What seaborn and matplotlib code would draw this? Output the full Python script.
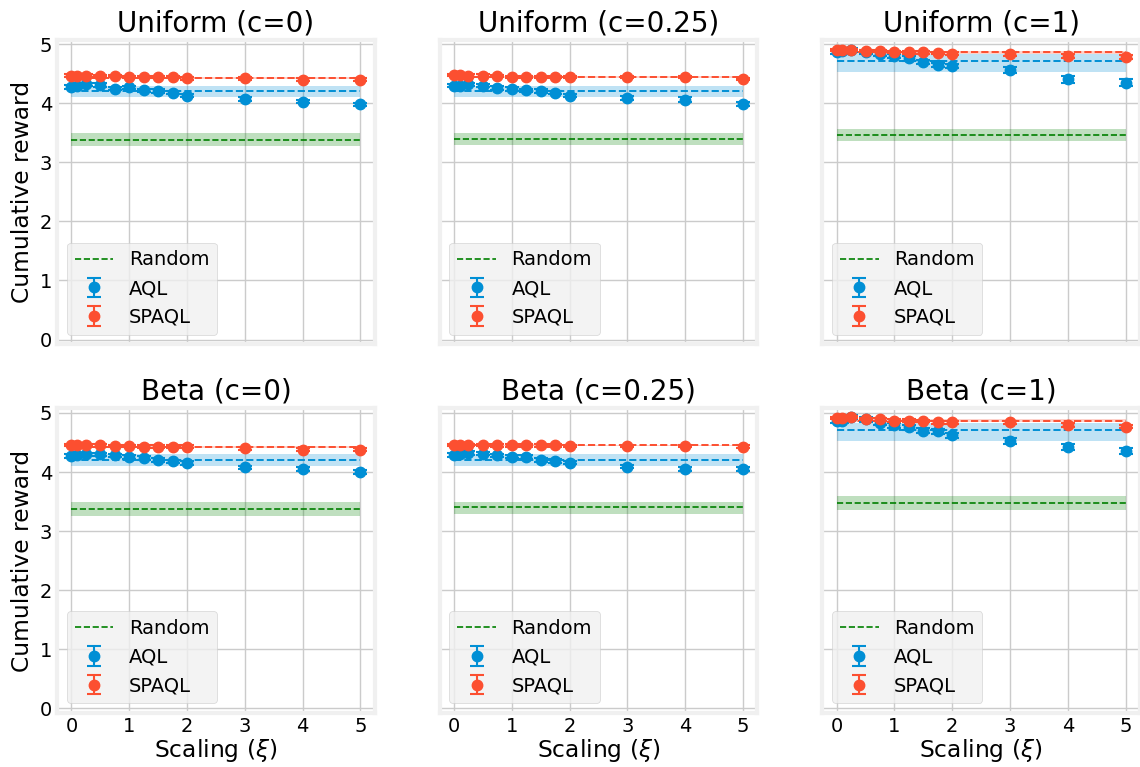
import numpy as np
import pandas as pd
import matplotlib
matplotlib.use("Agg")
import matplotlib.pyplot as plt
import seaborn as sns

# ---------------- data ----------------
xi = [0, 0.1, 0.25, 0.5, 0.75, 1, 1.25, 1.5, 1.75, 2, 3, 4, 5]
titles = ["Uniform (c=0)", "Uniform (c=0.25)", "Uniform (c=1)",
          "Beta (c=0)", "Beta (c=0.25)", "Beta (c=1)"]

aql_u0 = [4.28, 4.29, 4.32, 4.31, 4.25, 4.27, 4.22, 4.21, 4.18, 4.13, 4.07, 4.03, 3.98]
aql_u025 = [4.30, 4.30, 4.32, 4.30, 4.26, 4.24, 4.22, 4.21, 4.18, 4.13, 4.09, 4.06, 3.99]
aql_u1 = [4.87, 4.88, 4.90, 4.87, 4.84, 4.80, 4.76, 4.70, 4.65, 4.63, 4.57, 4.41, 4.35]
aql_b0 = [4.27, 4.29, 4.30, 4.30, 4.28, 4.25, 4.24, 4.20, 4.18, 4.15, 4.08, 4.05, 4.00]
aql_b025 = [4.29, 4.30, 4.32, 4.31, 4.28, 4.26, 4.25, 4.20, 4.19, 4.16, 4.09, 4.05, 4.05]
aql_b1 = [4.87, 4.87, 4.93, 4.89, 4.83, 4.79, 4.76, 4.70, 4.69, 4.62, 4.52, 4.43, 4.35]

spaql_u0 = [4.47, 4.47, 4.47, 4.46, 4.46, 4.45, 4.45, 4.45, 4.44, 4.42, 4.42, 4.40, 4.40]
spaql_u025 = [4.48, 4.48, 4.47, 4.47, 4.46, 4.45, 4.45, 4.45, 4.45, 4.45, 4.44, 4.44, 4.41]
spaql_u1 = [4.90, 4.90, 4.90, 4.89, 4.88, 4.87, 4.86, 4.86, 4.85, 4.84, 4.83, 4.80, 4.78]
spaql_b0 = [4.46, 4.46, 4.46, 4.45, 4.44, 4.44, 4.43, 4.43, 4.43, 4.43, 4.40, 4.38, 4.38]
spaql_b025 = [4.46, 4.46, 4.46, 4.46, 4.45, 4.45, 4.45, 4.45, 4.45, 4.44, 4.44, 4.44, 4.43]
spaql_b1 = [4.91, 4.91, 4.93, 4.90, 4.89, 4.87, 4.87, 4.86, 4.84, 4.84, 4.84, 4.80, 4.77]

aql_err_u0 = [0.03, 0.03, 0.03, 0.03, 0.03, 0.03, 0.03, 0.03, 0.03, 0.03, 0.03, 0.03, 0.03]
aql_err_u025 = [0.03, 0.03, 0.03, 0.03, 0.03, 0.03, 0.03, 0.03, 0.03, 0.03, 0.04, 0.04, 0.04]
aql_err_u1 = [0.04, 0.04, 0.03, 0.04, 0.04, 0.04, 0.04, 0.04, 0.04, 0.04, 0.05, 0.06, 0.06]
aql_err_b0 = [0.03, 0.03, 0.03, 0.03, 0.03, 0.03, 0.03, 0.03, 0.03, 0.03, 0.03, 0.04, 0.04]
aql_err_b025 = [0.03, 0.03, 0.03, 0.03, 0.03, 0.03, 0.03, 0.03, 0.03, 0.03, 0.03, 0.04, 0.04]
aql_err_b1 = [0.04, 0.04, 0.03, 0.04, 0.04, 0.04, 0.04, 0.04, 0.04, 0.04, 0.05, 0.05, 0.05]

spaql_err_u0 = [0.02] * 13
spaql_err_u025 = [0.02] * 13
spaql_err_u1 = [0.02, 0.02, 0.02, 0.02, 0.02, 0.02, 0.02, 0.02, 0.02, 0.02, 0.03, 0.03, 0.03]
spaql_err_b0 = [0.02] * 13
spaql_err_b025 = [0.02] * 13
spaql_err_b1 = [0.02, 0.02, 0.02, 0.02, 0.02, 0.02, 0.02, 0.02, 0.02, 0.02, 0.03, 0.03, 0.03]

# reference levels (dashed) with band low / high
aql_ref = [4.20, 4.21, 4.72, 4.20, 4.21, 4.71]
aql_lo = [4.10, 4.10, 4.53, 4.10, 4.11, 4.53]
aql_hi = [4.30, 4.30, 4.83, 4.30, 4.30, 4.83]
spaql_ref = [4.43, 4.45, 4.87, 4.43, 4.45, 4.87]
spaql_lo = [4.415, 4.435, 4.83, 4.415, 4.435, 4.84]
spaql_hi = [4.445, 4.465, 4.89, 4.445, 4.465, 4.90]
rand_ref = [3.38, 3.40, 3.46, 3.38, 3.40, 3.48]
rand_lo = [3.27, 3.30, 3.36, 3.25, 3.29, 3.35]
rand_hi = [3.50, 3.50, 3.56, 3.49, 3.50, 3.59]

aql_all = [aql_u0, aql_u025, aql_u1, aql_b0, aql_b025, aql_b1]
spaql_all = [spaql_u0, spaql_u025, spaql_u1, spaql_b0, spaql_b025, spaql_b1]
aql_err_all = [aql_err_u0, aql_err_u025, aql_err_u1, aql_err_b0, aql_err_b025, aql_err_b1]
spaql_err_all = [spaql_err_u0, spaql_err_u025, spaql_err_u1, spaql_err_b0, spaql_err_b025, spaql_err_b1]

# ---------------- style ----------------
sns.set_theme()
plt.style.use("fivethirtyeight")
plt.rcParams.update({
    "axes.facecolor": "white",
    "figure.facecolor": "white",
    "savefig.facecolor": "white",
    "savefig.edgecolor": "white",
    "font.family": ["DejaVu Sans"],
    "font.size": 14,
    "text.color": "black",
    "axes.labelcolor": "black",
    "xtick.color": "black",
    "ytick.color": "black",
    "xtick.major.pad": 3.0,
    "ytick.major.pad": 3.5,
    "xtick.major.size": 0,
    "ytick.major.size": 0,
})

BLUE = "#008fd5"
RED = "#fc4f30"
GREEN = "#008000"

fig, axes = plt.subplots(2, 3, figsize=(11.4, 7.67), dpi=100, sharex=True, sharey="row")
fig.subplots_adjust(left=0.05, right=1.0, top=0.9485, bottom=0.0704, wspace=0.204, hspace=0.21)

for i, ax in enumerate(axes.flat):
    rand_df = pd.DataFrame({"x": [0, 5], "y": [rand_ref[i], rand_ref[i]]})
    ref_df = pd.DataFrame({
        "x": [0, 5, 0, 5],
        "y": [aql_ref[i], aql_ref[i], spaql_ref[i], spaql_ref[i]],
        "s": ["AQLref", "AQLref", "SPAQLref", "SPAQLref"],
    })
    ax.fill_between([0, 5], rand_lo[i], rand_hi[i], color=GREEN, alpha=0.25, lw=0)
    ax.fill_between([0, 5], aql_lo[i], aql_hi[i], color=BLUE, alpha=0.25, lw=0)
    ax.fill_between([0, 5], spaql_lo[i], spaql_hi[i], color=RED, alpha=0.25, lw=0)
    sns.lineplot(data=rand_df, x="x", y="y", color=GREEN,
                 linestyle="--", linewidth=1.2, legend=False, ax=ax)
    rand_line = ax.lines[-1]
    sns.lineplot(data=ref_df, x="x", y="y", hue="s",
                 palette={"AQLref": BLUE, "SPAQLref": RED},
                 linestyle="--", linewidth=1.4, legend=False, ax=ax)
    c_aql = ax.errorbar(xi, aql_all[i], yerr=aql_err_all[i], fmt="o", color=BLUE,
                        markersize=7.5, elinewidth=1.5, capsize=5, capthick=1.5, zorder=4)
    c_spaql = ax.errorbar(xi, spaql_all[i], yerr=spaql_err_all[i], fmt="o", color=RED,
                          markersize=7.5, elinewidth=1.5, capsize=5, capthick=1.5, zorder=5)
    ax.set_title(titles[i], fontsize=20)
    ax.set_xlim(-0.25, 5.25)
    ax.set_ylim(-0.08, 5.08)
    ax.set_xticks([0, 1, 2, 3, 4, 5])
    ax.set_yticks([0, 1, 2, 3, 4, 5])
    ax.tick_params(labelsize=14, length=0)
    ax.set_xlabel("")
    ax.set_ylabel("")
    ax.legend([rand_line, c_aql, c_spaql], ["Random", "AQL", "SPAQL"],
              loc="lower left", fontsize=14, facecolor="#f0f0f0", framealpha=0.8)

for ax in axes[:, 0]:
    ax.set_ylabel("Cumulative reward", fontsize=16.8)
for ax in axes[1, :]:
    ax.set_xlabel(r"Scaling ($\xi$)", fontsize=16.8, labelpad=0.5)

fig.savefig("out.png", dpi=100)
